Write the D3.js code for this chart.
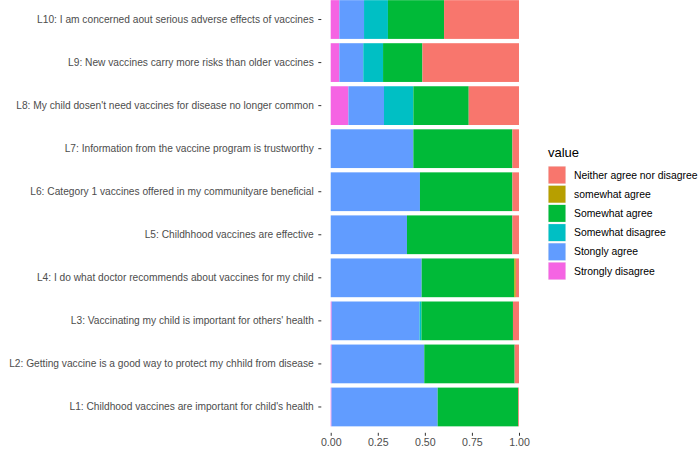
<!DOCTYPE html>
<html>
<head>
<meta charset="utf-8">
<script src="https://cdn.jsdelivr.net/npm/d3@7"></script>
<style>
  body { margin: 0; background: #fff; }
  svg { display: block; font-family: "Liberation Sans", Arial, sans-serif; }
</style>
</head>
<body>
<div id="chart"></div>
<script>
// questions, bottom (L1) to top (L10)
const questions = [
    "L1: Childhood vaccines are important for child's health",
    "L2: Getting vaccine is a good way to protect my chhild from disease",
    "L3: Vaccinating my child is important for others' health",
    "L4: I do what doctor recommends about vaccines for my child",
    "L5: Childhhood vaccines are effective",
    "L6: Category 1 vaccines offered in my communityare beneficial",
    "L7: Information from the vaccine program is trustworthy",
    "L8: My child dosen't need vaccines for disease no longer common",
    "L9: New vaccines carry more risks than older vaccines",
    "L10: I am concerned aout serious adverse effects of vaccines"
];

// legend order (factor levels)
const levels = ["Neither agree nor disagree", "somewhat agree", "Somewhat agree",
    "Somewhat disagree", "Stongly agree", "Strongly disagree"];
const colors = ["#F8766D", "#B79F00", "#00BA38", "#00BFC4", "#619CFF", "#F564E3"];

// proportions per level, same order as questions
const stronglyDisagree = [0.004, 0.005, 0.005, 0, 0, 0, 0, 0.094, 0.046, 0.046];
const stonglyAgree     = [0.564, 0.492, 0.467, 0.483, 0.405, 0.474, 0.439, 0.189, 0.127, 0.131];
const somewhatDisagree = [0, 0, 0.010, 0, 0, 0, 0, 0.156, 0.105, 0.127];
const somewhatAgree    = [0.428, 0.480, 0.486, 0.492, 0.560, 0.491, 0.526, 0.294, 0.209, 0.298];
const somewhatAgreeLc  = [0, 0, 0, 0.008, 0, 0, 0, 0, 0, 0];
const neither          = [0.004, 0.023, 0.032, 0.017, 0.035, 0.035, 0.035, 0.267, 0.513, 0.398];

const xTicks = [0, 0.25, 0.5, 0.75, 1];

const W = 700, H = 449;
const panel = { left: 321.3, right: 528.4, top: -6.3, bottom: 432.8 };

const rows = questions.map((q, i) => ({
    q: q,
    "Strongly disagree": stronglyDisagree[i],
    "Stongly agree": stonglyAgree[i],
    "Somewhat disagree": somewhatDisagree[i],
    "Somewhat agree": somewhatAgree[i],
    "somewhat agree": somewhatAgreeLc[i],
    "Neither agree nor disagree": neither[i]
}));

// stacking goes left to right in reverse level order
const stackKeys = levels.slice().reverse();
const series = d3.stack().keys(stackKeys)(rows);

const color = d3.scaleOrdinal().domain(levels).range(colors);

const x = d3.scaleLinear()
    .domain([-0.05, 1.05])
    .range([panel.left, panel.right]);

const y = d3.scaleBand()
    .domain(questions)
    .range([panel.bottom, panel.top])
    .paddingInner(0.1)
    .paddingOuter(0.15);

const svg = d3.select("#chart")
    .append("svg")
    .attr("width", W)
    .attr("height", H);

svg.append("g")
    .selectAll("g")
    .data(series)
    .join("g")
    .attr("fill", d => color(d.key))
    .selectAll("rect")
    .data(d => d)
    .join("rect")
    .attr("x", d => x(d[0]))
    .attr("width", d => Math.max(0, x(d[1]) - x(d[0])))
    .attr("y", d => y(d.data.q))
    .attr("height", y.bandwidth());

// y axis
const yAxis = svg.append("g")
    .attr("transform", `translate(${panel.left},0)`)
    .call(d3.axisLeft(y).tickSize(3).tickPadding(4.5));
yAxis.select(".domain").remove();
yAxis.selectAll(".tick line").attr("stroke", "#333333");
yAxis.selectAll(".tick text")
    .attr("fill", "#4D4D4D")
    .attr("font-size", "10.2px")
    .attr("font-family", "Liberation Sans, Arial, sans-serif");

// x axis
const xAxis = svg.append("g")
    .attr("transform", `translate(0,${panel.bottom})`)
    .call(d3.axisBottom(x).tickValues(xTicks).tickFormat(d3.format(".2f")).tickSize(3).tickPadding(3));
xAxis.select(".domain").remove();
xAxis.selectAll(".tick line").attr("stroke", "#333333");
xAxis.selectAll(".tick text")
    .attr("fill", "#4D4D4D")
    .attr("font-size", "10.6px")
    .attr("font-family", "Liberation Sans, Arial, sans-serif");

// legend
const legend = svg.append("g")
    .attr("transform", "translate(548,140)");

legend.append("text")
    .attr("x", 0)
    .attr("y", 17)
    .attr("font-size", "13px")
    .attr("fill", "#000")
    .text("value");

const keys = legend.selectAll("g.key")
    .data(levels)
    .join("g")
    .attr("class", "key")
    .attr("transform", (d, i) => `translate(0,${26 + i * 19.2})`);

keys.append("rect")
    .attr("width", 18)
    .attr("height", 18)
    .attr("fill", "#F2F2F2");

keys.append("rect")
    .attr("x", 0.5)
    .attr("y", 0.5)
    .attr("width", 17)
    .attr("height", 17)
    .attr("fill", d => color(d));

keys.append("text")
    .attr("x", 26)
    .attr("y", 9)
    .attr("dy", "0.35em")
    .attr("font-size", "10.4px")
    .attr("fill", "#000")
    .text(d => d);
</script>
</body>
</html>
